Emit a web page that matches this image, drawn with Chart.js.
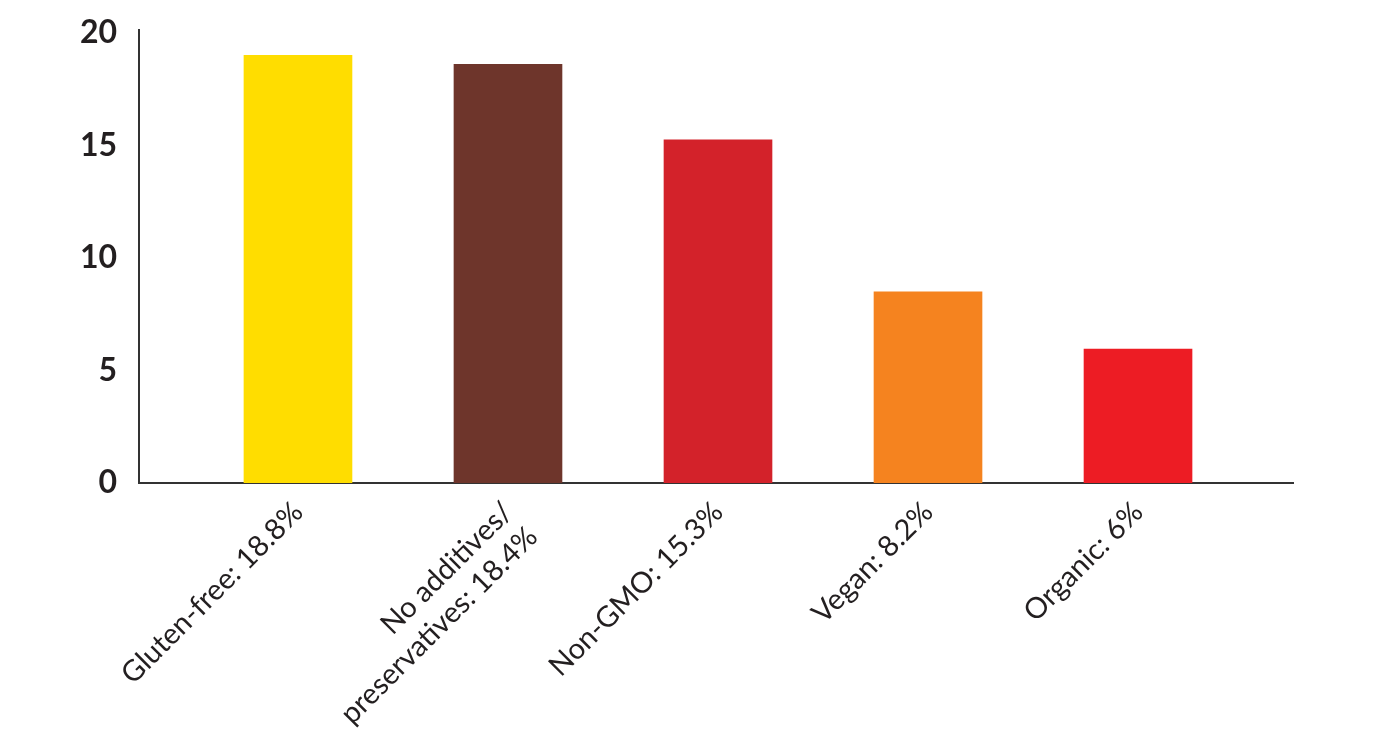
<!DOCTYPE html>
<html>
<head>
<meta charset="utf-8">
<script src="https://cdn.jsdelivr.net/npm/chart.js@4"></script>
<style>
  html, body { margin: 0; padding: 0; background: #fff; }
  #wrap { width: 1400px; height: 756px; }
</style>
</head>
<body>
<div id="wrap"><canvas id="chart" width="1400" height="756"></canvas></div>
<script>
// categories as shown under the bars (second one wraps on two lines)
const categories = [
    ["Gluten-free: 18.8%"],
    ["No additives/", "preservatives: 18.4%"],
    ["Non-GMO: 15.3%"],
    ["Vegan: 8.2%"],
    ["Organic: 6%"]
];
// bar heights
const values = [19.0, 18.6, 15.25, 8.5, 5.95];
const barColors = ["#FFDD00", "#6E352B", "#D3222A", "#F5831F", "#ED1C24"];
const yTicks = [0, 5, 10, 15, 20];

const ctx = document.getElementById("chart");

new Chart(ctx, {
    type: "bar",
    data: {
        datasets: [
            {
                data: values.map((v, i) => ({ x: i, y: v })),
                backgroundColor: barColors,
                borderWidth: 0,
                barThickness: 108
            }
        ]
    },
    options: {
        responsive: false,
        animation: false,
        layout: { padding: { top: 30, right: 107, left: 0, bottom: 0 } },
        plugins: {
            legend: { display: false },
            tooltip: { enabled: false }
        },
        scales: {
            x: {
                type: "linear",
                offset: false,
                min: -0.757,
                max: 4.738,
                afterBuildTicks: (scale) => {
                    scale.ticks = categories.map((c, i) => ({ value: i }));
                },
                afterFit: (scale) => { scale.height = 273; },
                grid: { display: false, drawTicks: false },
                border: { display: true, color: "#333333", width: 2 },
                ticks: {
                    autoSkip: false,
                    minRotation: 45,
                    maxRotation: 45,
                    padding: 12,
                    color: "#231F20",
                    font: { family: "Lato", size: 29, weight: "normal" },
                    callback: (v) => categories[v]
                }
            },
            y: {
                min: 0,
                max: 20.13,
                afterBuildTicks: (scale) => {
                    scale.ticks = yTicks.map((v) => ({ value: v }));
                },
                afterFit: (scale) => {
                    scale.width = 139;
                    scale.paddingTop = 0;
                },
                grid: { display: false, drawTicks: false },
                border: { display: true, color: "#333333", width: 2 },
                ticks: {
                    padding: 22,
                    color: "#231F20",
                    font: { family: "Lato", size: 32, weight: "bold", lineHeight: 0.9 }
                }
            }
        }
    }
});
</script>
</body>
</html>
